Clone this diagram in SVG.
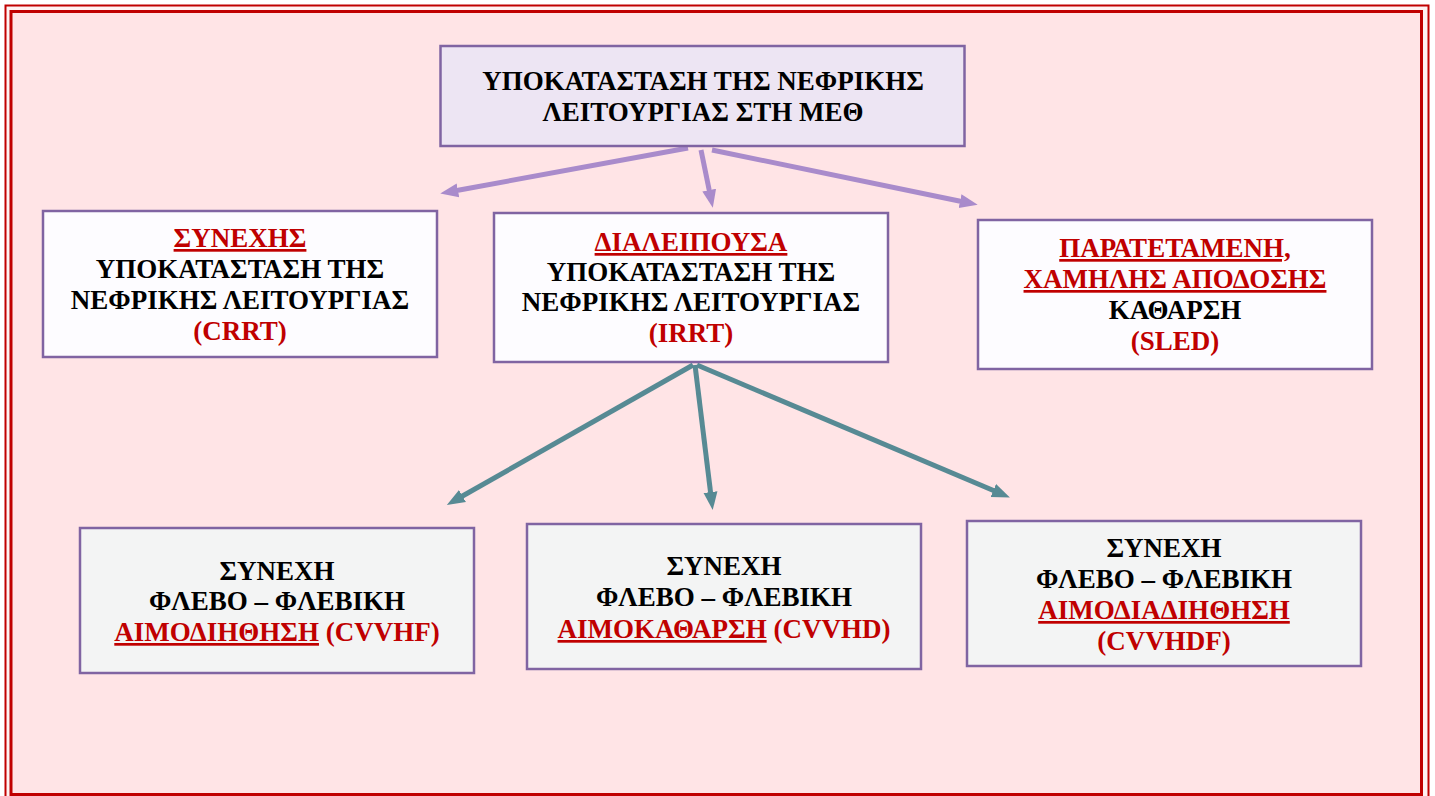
<svg xmlns="http://www.w3.org/2000/svg" width="1435" height="796" viewBox="0 0 1435 796">
<defs>
<style>
.t{font-family:"Liberation Serif","Times New Roman",serif;font-weight:bold;font-size:27px;text-anchor:middle;fill:#000}
.r{fill:#C00000}
.u{text-decoration:underline;text-decoration-thickness:2px;text-underline-offset:3px}
.box{stroke:#8064A2;stroke-width:2.5}
.w{fill:#FDFCFF}
.g{fill:#F3F4F4}
.pa{stroke:#A98BCB;stroke-width:5;fill:none}
.ta{stroke:#578A94;stroke-width:5;fill:none}
</style>
<marker id="mp" markerUnits="userSpaceOnUse" markerWidth="20" markerHeight="20" viewBox="0 0 20 20" refX="4" refY="10" orient="auto">
<path d="M0,3 L18,10 L0,17 Z" fill="#A98BCB"/>
</marker>
<marker id="mt" markerUnits="userSpaceOnUse" markerWidth="20" markerHeight="20" viewBox="0 0 20 20" refX="4" refY="10" orient="auto">
<path d="M0,3 L18,10 L0,17 Z" fill="#578A94"/>
</marker>
</defs>
<rect x="0" y="0" width="1435" height="796" fill="#FFFFFF"/>
<rect id="frame-outer" x="5.5" y="5.5" width="1423" height="800" fill="#FFF2F2" stroke="#C00000" stroke-width="2"/>
<rect id="frame-inner" x="11" y="11.5" width="1410.5" height="783" fill="#FFE4E6" stroke="#C00000" stroke-width="3"/>

<g id="connectors">
<line class="pa" x1="688" y1="148" x2="454" y2="191" marker-end="url(#mp)"/>
<line class="pa" x1="701" y1="150" x2="710" y2="194" marker-end="url(#mp)"/>
<line class="pa" x1="712" y1="150" x2="964" y2="202" marker-end="url(#mp)"/>
<line class="ta" x1="693" y1="365" x2="459" y2="498" marker-end="url(#mt)"/>
<line class="ta" x1="695" y1="365" x2="711" y2="496" marker-end="url(#mt)"/>
<line class="ta" x1="697" y1="365" x2="997" y2="492" marker-end="url(#mt)"/>
</g>

<g id="node-root">
<rect class="box" x="440.5" y="46" width="524" height="100" fill="#EDE5F3"/>
<text class="t" x="703" y="90">ΥΠΟΚΑΤΑΣΤΑΣΗ ΤΗΣ ΝΕΦΡΙΚΗΣ</text>
<text class="t" x="703" y="121">ΛΕΙΤΟΥΡΓΙΑΣ ΣΤΗ ΜΕΘ</text>
</g>

<g id="node-crrt">
<rect class="box w" x="43" y="211" width="394" height="146"/>
<text class="t r u" x="240" y="247">ΣΥΝΕΧΗΣ</text>
<text class="t" x="240" y="278">ΥΠΟΚΑΤΑΣΤΑΣΗ ΤΗΣ</text>
<text class="t" x="240" y="309">ΝΕΦΡΙΚΗΣ ΛΕΙΤΟΥΡΓΙΑΣ</text>
<text class="t r" x="240" y="340">(CRRT)</text>
</g>

<g id="node-irrt">
<rect class="box w" x="494" y="213" width="394" height="149"/>
<text class="t r u" x="691" y="251">ΔΙΑΛΕΙΠΟΥΣΑ</text>
<text class="t" x="691" y="281">ΥΠΟΚΑΤΑΣΤΑΣΗ ΤΗΣ</text>
<text class="t" x="691" y="311">ΝΕΦΡΙΚΗΣ ΛΕΙΤΟΥΡΓΙΑΣ</text>
<text class="t r" x="691" y="342">(IRRT)</text>
</g>

<g id="node-sled">
<rect class="box w" x="978" y="220" width="394" height="149"/>
<text class="t r u" x="1175" y="257">ΠΑΡΑΤΕΤΑΜΕΝΗ,</text>
<text class="t r u" x="1175" y="288">ΧΑΜΗΛΗΣ ΑΠΟΔΟΣΗΣ</text>
<text class="t" x="1175" y="319">ΚΑΘΑΡΣΗ</text>
<text class="t r" x="1175" y="350">(SLED)</text>
</g>

<g id="node-cvvhf">
<rect class="box g" x="80" y="528" width="394" height="145"/>
<text class="t" x="277" y="580">ΣΥΝΕΧΗ</text>
<text class="t" x="277" y="610">ΦΛΕΒΟ – ΦΛΕΒΙΚΗ</text>
<text class="t r" x="277" y="641"><tspan class="u">ΑΙΜΟΔΙΗΘΗΣΗ</tspan> (CVVHF)</text>
</g>

<g id="node-cvvhd">
<rect class="box g" x="527" y="524" width="394" height="145"/>
<text class="t" x="724" y="575">ΣΥΝΕΧΗ</text>
<text class="t" x="724" y="606">ΦΛΕΒΟ – ΦΛΕΒΙΚΗ</text>
<text class="t r" x="724" y="638"><tspan class="u">ΑΙΜΟΚΑΘΑΡΣΗ</tspan> (CVVHD)</text>
</g>

<g id="node-cvvhdf">
<rect class="box g" x="967" y="521" width="394" height="145"/>
<text class="t" x="1164" y="557">ΣΥΝΕΧΗ</text>
<text class="t" x="1164" y="588">ΦΛΕΒΟ – ΦΛΕΒΙΚΗ</text>
<text class="t r u" x="1164" y="619">ΑΙΜΟΔΙΑΔΙΗΘΗΣΗ</text>
<text class="t r" x="1164" y="650">(CVVHDF)</text>
</g>
</svg>
